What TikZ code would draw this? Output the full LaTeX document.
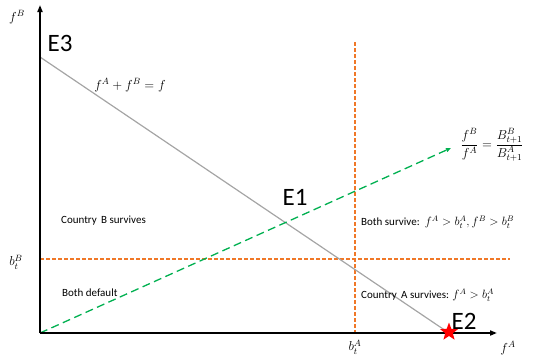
\RequirePackage{fix-cm}
\documentclass[tikz,border=0pt]{standalone}
\usepackage{amsmath}
\usepackage{fontspec}
\setmainfont{Carlito}
\usetikzlibrary{arrows.meta,shapes.geometric}
\definecolor{myorange}{RGB}{240,120,40}
\definecolor{mygreen}{RGB}{0,176,80}
\definecolor{mygray}{RGB}{165,165,165}
\begin{document}
\begin{tikzpicture}[x=1pt,y=-1pt,
  axis/.style={line width=1.8pt,-{Triangle[length=7pt,width=5pt]}},
  orangedash/.style={myorange,line width=1.2pt,dash pattern=on 4pt off 2pt},
  greendash/.style={mygreen,line width=1.3pt,dash pattern=on 8pt off 4.5pt,-{Triangle[length=5pt,width=4pt]}},
  budget/.style={mygray,line width=1.2pt},
  big/.style={font=\fontsize{25}{25}\selectfont,inner sep=0pt},
  small/.style={font=\fontsize{11}{13}\selectfont,inner sep=0pt},
  mlab/.style={font=\fontsize{13}{15}\selectfont,inner sep=0pt}]
\useasboundingbox (0,0) rectangle (535,357);
\coordinate (O) at (40,333);
\coordinate (Ytip) at (40,5);
\coordinate (Xtip) at (497,333);
\coordinate (E3pt) at (40,57);
\coordinate (E2pt) at (449,333);
\coordinate (Gtip) at (451,148);
\coordinate (Vtop) at (355,42);
\coordinate (Vbot) at (355,333);
\coordinate (Hl) at (40,259);
\coordinate (Hr) at (510,259);
% dashed lines
\draw[orangedash] (Vtop) -- (Vbot);
\draw[orangedash] (Hl) -- (Hr);
\draw[budget] (E3pt) -- (E2pt);
\draw[greendash] (O) -- (Gtip);
% axes
\draw[axis] (O) -- (Ytip);
\draw[axis] (O) -- (Xtip);
\node[star,star points=5,star point ratio=2.4,fill=red,inner sep=0pt,minimum size=19pt] (star) at (449,332) {};
% labels
\node[big] (E3) at (60,43) {E3};
\node[big] (E1) at (295,197) {E1};
\node[big] (E2) at (464,321) {E2};
\node[mlab] (fB) at (17,17) {$f^{B}$};
\node[mlab] (fA) at (508,348) {$f^{A}$};
\node[mlab] (btB) at (16,262) {$b_t^{B}$};
\node[mlab] (btA) at (355,347) {$b_t^{A}$};
\node[mlab] (budgetlab) at (130,85) {$f^{A}+f^{B}=f$};
\node[mlab] (ratio) at (492,145) {$\dfrac{f^{B}}{f^{A}}=\dfrac{B^{B}_{t+1}}{B^{A}_{t+1}}$};
\node[small,anchor=west] (cb) at (61,221) {Country\, B survives};
\node[small,anchor=west] (bd) at (62,293) {Both default};
\node[small,anchor=west] (bs) at (361,222) {Both survive:\, {\fontsize{12}{14}\selectfont$f^{A}>b_t^{A}, f^{B}>b_t^{B}$}};
\node[small,anchor=west] (ca) at (361,295) {Country\, A survives: {\fontsize{12}{14}\selectfont$f^{A}>b_t^{A}$}};
\end{tikzpicture}
\end{document}
